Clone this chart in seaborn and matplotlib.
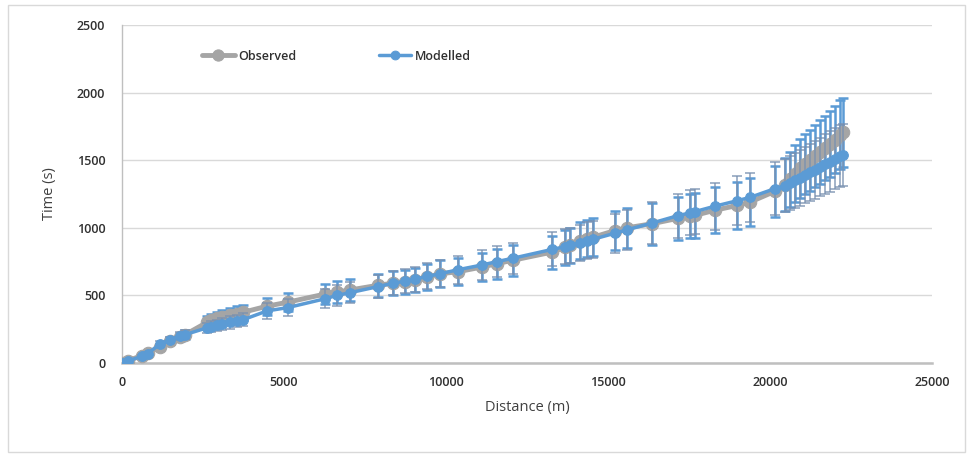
import numpy as np
import pandas as pd
import matplotlib
matplotlib.use("Agg")
import matplotlib.pyplot as plt
from matplotlib.patches import Rectangle
import seaborn as sns

# Distance along the route (m)
distance = [0, 185, 620, 800, 1170, 1480, 1790, 1950, 2620, 2750, 2930, 3100, 3330,
            3550, 3735, 4475, 5120, 6265, 6636, 7037, 7901, 8364, 8735, 9043, 9414,
            9815, 10370, 11111, 11574, 12068, 13272, 13673, 13827, 14136, 14352,
            14537, 15216, 15586, 16358, 17160, 17531, 17685, 18302, 18981, 19383,
            20154, 20463, 20617, 20772, 20926, 21080, 21235, 21389, 21543, 21698,
            21852, 22006, 22160, 22253]

# Observed travel time (s)
observed = [0, 18, 55, 75, 120, 165, 195, 210, 300, 318, 330, 342, 355,
            365, 375, 420, 450, 510, 525, 540, 575, 590, 600, 614, 635,
            660, 675, 710, 735, 760, 820, 855, 870, 905, 920,
            930, 980, 1000, 1030, 1070, 1085, 1092, 1130, 1165, 1190,
            1270, 1320, 1360, 1400, 1440, 1470, 1500, 1530, 1560, 1590,
            1620, 1650, 1690, 1705]

# Modelled travel time (s)
modelled = [0, 15, 50, 70, 140, 170, 200, 210, 260, 268, 278, 288, 300,
            310, 320, 385, 410, 475, 500, 520, 565, 590, 605, 620, 640,
            660, 690, 725, 750, 775, 840, 860, 870, 890, 905,
            915, 960, 985, 1035, 1090, 1110, 1120, 1160, 1200, 1225,
            1290, 1310, 1330, 1350, 1370, 1390, 1410, 1430, 1450, 1470,
            1490, 1510, 1530, 1540]

# Relative uncertainty shown as error bars
rel_error = 0.15

x_ticks = [0, 5000, 10000, 15000, 20000, 25000]
y_ticks = [0, 500, 1000, 1500, 2000, 2500]

GRAY = "#a5a5a5"
BLUE = "#5b9bd5"
SLATE = "#7890b0"
TEXT = "#404040"

sns.set_theme(style="white")
plt.rcParams["font.family"] = ["Open Sans", "DejaVu Sans"]

df = pd.DataFrame({"Distance": distance, "Observed": observed, "Modelled": modelled})

fig = plt.figure(figsize=(9.71, 4.54), dpi=100)
fig.patch.set_facecolor("white")
fig.add_artist(Rectangle((8 / 971, 2 / 454), 957 / 971, 447 / 454,
                         transform=fig.transFigure, fill=False,
                         edgecolor="#d9d9d9", linewidth=1.0))

ax = fig.add_axes([122 / 971, 1 - 363 / 454, 810 / 971, 338 / 454])

obs = np.array(observed, dtype=float)
mod = np.array(modelled, dtype=float)

ax.errorbar(df["Distance"], obs, yerr=rel_error * obs, fmt="none",
            ecolor=BLUE, elinewidth=1.8, capsize=3.5, capthick=1.8, zorder=2)
sns.lineplot(data=df, x="Distance", y="Observed", ax=ax, sort=False,
             color=GRAY, linewidth=3.5, marker="o", markersize=9,
             markeredgecolor=GRAY, label="Observed", zorder=3)
ax.errorbar(df["Distance"], mod, yerr=rel_error * mod, fmt="none",
            ecolor=SLATE, elinewidth=1.2, capsize=3.5, capthick=1.2,
            alpha=0.8, zorder=3.5)
sns.lineplot(data=df, x="Distance", y="Modelled", ax=ax, sort=False,
             color=BLUE, linewidth=2.5, marker="o", markersize=7,
             markeredgecolor=BLUE, label="Modelled", zorder=4)

ax.set_xlim(0, 25000)
ax.set_ylim(0, 2500)
ax.set_xticks(x_ticks)
ax.set_yticks(y_ticks)
ax.set_xticklabels([str(v) for v in x_ticks], fontsize=9, color="#303030",
                   fontweight="semibold")
ax.set_yticklabels([str(v) for v in y_ticks], fontsize=9, color="#303030",
                   fontweight="semibold")
ax.tick_params(axis="both", length=0, pad=9)
ax.tick_params(axis="y", pad=12)

ax.yaxis.grid(True, color="#d9d9d9", linewidth=1.0)
ax.set_axisbelow(True)
for side in ["top", "right"]:
    ax.spines[side].set_visible(False)
ax.spines["left"].set_color("#bfbfbf")
ax.spines["left"].set_linewidth(1.0)
ax.spines["bottom"].set_color("#bfbfbf")
ax.spines["bottom"].set_linewidth(1.8)

ax.set_xlabel("Distance (m)", fontsize=10.5, color=TEXT, labelpad=8)
ax.set_ylabel("Time (s)", fontsize=10.5, color=TEXT, labelpad=14)

leg = ax.legend(loc="upper left", bbox_to_anchor=(0.085, 0.96), ncol=2,
                frameon=False, fontsize=9, handlelength=2.6, columnspacing=6.6,
                handletextpad=0.3, markerscale=0.9)
for txt in leg.get_texts():
    txt.set_color("#303030")
    txt.set_fontweight("semibold")

fig.savefig("out.png", dpi=100)
